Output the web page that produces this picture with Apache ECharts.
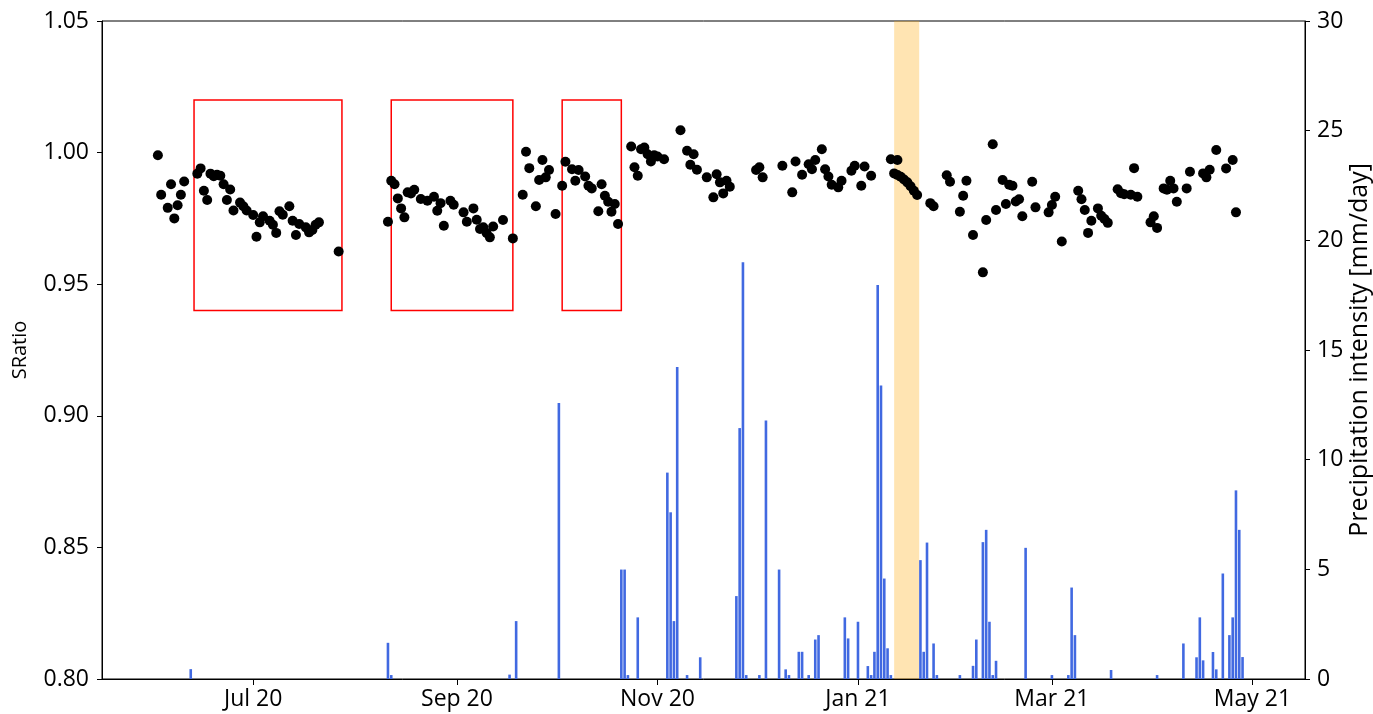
<!DOCTYPE html>
<html>
<head>
<meta charset="utf-8">
<script src="https://cdn.jsdelivr.net/npm/echarts@6/dist/echarts.min.js"></script>
<style>
  html, body { margin: 0; padding: 0; background: #fff; }
  #chart { width: 1373px; height: 714px; }
</style>
</head>
<body>
<div id="chart"></div>
<script>
// SRatio measurements (left axis)
const sratioDates = [
  '2020-06-02','2020-06-03','2020-06-05','2020-06-06','2020-06-07','2020-06-08','2020-06-09','2020-06-10',
  '2020-06-14','2020-06-15','2020-06-16','2020-06-17','2020-06-18','2020-06-19','2020-06-20','2020-06-21',
  '2020-06-22','2020-06-23','2020-06-24','2020-06-25','2020-06-27','2020-06-28','2020-06-29','2020-07-01',
  '2020-07-02','2020-07-03','2020-07-04','2020-07-06','2020-07-07','2020-07-08','2020-07-09','2020-07-10',
  '2020-07-12','2020-07-13','2020-07-14','2020-07-15','2020-07-17','2020-07-18','2020-07-19','2020-07-20',
  '2020-07-21','2020-07-27',
  '2020-08-11','2020-08-12','2020-08-13','2020-08-14','2020-08-15','2020-08-16','2020-08-17','2020-08-18',
  '2020-08-19','2020-08-21','2020-08-23','2020-08-25','2020-08-26','2020-08-27','2020-08-28','2020-08-30',
  '2020-08-31','2020-09-03','2020-09-04','2020-09-06','2020-09-07','2020-09-08','2020-09-09','2020-09-10',
  '2020-09-11','2020-09-12','2020-09-15','2020-09-18',
  '2020-09-21','2020-09-22','2020-09-23','2020-09-25','2020-09-26','2020-09-27','2020-09-28','2020-09-29',
  '2020-10-01','2020-10-03','2020-10-04','2020-10-06','2020-10-07','2020-10-08','2020-10-10','2020-10-11',
  '2020-10-12','2020-10-14','2020-10-15','2020-10-16','2020-10-17','2020-10-18','2020-10-19','2020-10-20',
  '2020-10-24','2020-10-25','2020-10-26','2020-10-27','2020-10-28','2020-10-29','2020-10-30','2020-10-31',
  '2020-11-01','2020-11-03','2020-11-08','2020-11-10','2020-11-11','2020-11-12','2020-11-13','2020-11-16',
  '2020-11-18','2020-11-19','2020-11-20','2020-11-21','2020-11-22','2020-11-23',
  '2020-12-01','2020-12-02','2020-12-03','2020-12-09','2020-12-12','2020-12-13','2020-12-15','2020-12-17',
  '2020-12-18','2020-12-19','2020-12-21','2020-12-22','2020-12-23','2020-12-24','2020-12-26','2020-12-27',
  '2020-12-30','2020-12-31',
  '2021-01-02','2021-01-03','2021-01-05','2021-01-11','2021-01-12','2021-01-13','2021-01-13','2021-01-14',
  '2021-01-15','2021-01-16','2021-01-17','2021-01-18','2021-01-19','2021-01-23','2021-01-24','2021-01-28',
  '2021-01-29','2021-02-01','2021-02-02','2021-02-03','2021-02-05','2021-02-08','2021-02-09','2021-02-11',
  '2021-02-12','2021-02-14','2021-02-15','2021-02-16','2021-02-17','2021-02-18','2021-02-19','2021-02-20',
  '2021-02-23','2021-02-24','2021-02-28','2021-03-01','2021-03-02','2021-03-04','2021-03-09','2021-03-10',
  '2021-03-11','2021-03-12','2021-03-13','2021-03-15','2021-03-16','2021-03-17','2021-03-18','2021-03-21',
  '2021-03-22','2021-03-23','2021-03-25','2021-03-26','2021-03-27','2021-03-31','2021-04-01','2021-04-02',
  '2021-04-04','2021-04-05','2021-04-06','2021-04-07','2021-04-08','2021-04-11','2021-04-12','2021-04-16',
  '2021-04-17','2021-04-18','2021-04-20','2021-04-23','2021-04-25','2021-04-26'
];
const sratioValues = [
  0.999,0.984,0.979,0.988,0.975,0.980,0.984,0.989,
  0.992,0.994,0.9855,0.982,0.992,0.991,0.9916,0.9912,
  0.988,0.982,0.986,0.978,0.981,0.9796,0.978,0.9763,
  0.968,0.9735,0.9758,0.9741,0.9726,0.9695,0.9777,0.9764,
  0.9796,0.9741,0.9687,0.9729,0.9716,0.9697,0.9706,0.9726,
  0.9735,0.9624,
  0.9737,0.9893,0.988,0.9826,0.9788,0.9754,0.9849,0.9845,
  0.9859,0.9824,0.9817,0.9832,0.9779,0.9808,0.9722,0.9817,
  0.9802,0.9773,0.9737,0.9788,0.9745,0.971,0.9716,0.9695,
  0.9678,0.9719,0.9744,0.9674,
  0.984,1.0003,0.9941,0.9796,0.9896,0.9972,0.9906,0.9934,
  0.9767,0.9874,0.9965,0.9937,0.9893,0.9934,0.9909,0.9874,
  0.9864,0.9777,0.988,0.9836,0.9813,0.9775,0.9805,0.9729,
  1.0023,0.9944,0.9912,1.0013,1.0019,0.9994,0.9966,0.999,
  0.9985,0.9975,1.0085,1.0007,0.9954,0.9994,0.9935,0.9906,
  0.983,0.9918,0.9887,0.9845,0.9893,0.987,
  0.9934,0.9944,0.9906,0.995,0.9849,0.9966,0.9916,0.9956,
  0.9937,0.9972,1.0013,0.9937,0.9909,0.9878,0.9868,0.9893,
  0.9931,0.995,
  0.9874,0.9947,0.9912,0.9975,0.9921,0.9972,0.9915,0.9908,
  0.9898,0.9887,0.9872,0.9855,0.9839,0.9808,0.9796,0.9914,
  0.9889,0.9775,0.9836,0.9893,0.9687,0.9545,0.9744,1.0032,
  0.9782,0.9896,0.9805,0.9878,0.9874,0.9814,0.9823,0.9758,
  0.9889,0.9792,0.9773,0.9801,0.9832,0.9662,0.9855,0.9823,
  0.9782,0.9695,0.9741,0.9788,0.976,0.9748,0.9733,0.9861,
  0.9846,0.9842,0.984,0.9941,0.9832,0.9735,0.9758,0.9714,
  0.9864,0.9859,0.9893,0.9864,0.9813,0.9864,0.9927,0.9921,
  0.9906,0.9935,1.001,0.994,0.9972,0.9773
];

// daily precipitation intensity [mm/day] (right axis)
const rainDates = [
  '2020-06-12','2020-08-11','2020-08-12','2020-09-17','2020-09-19','2020-10-02','2020-10-21','2020-10-22',
  '2020-10-23','2020-10-26','2020-11-04','2020-11-05','2020-11-06','2020-11-07','2020-11-10','2020-11-14',
  '2020-11-25','2020-11-26','2020-11-27','2020-11-28','2020-12-02','2020-12-04','2020-12-08','2020-12-10',
  '2020-12-11','2020-12-14','2020-12-15','2020-12-17','2020-12-19','2020-12-20','2020-12-28','2020-12-29',
  '2021-01-01','2021-01-04','2021-01-05','2021-01-06','2021-01-07','2021-01-08','2021-01-09','2021-01-10',
  '2021-01-11','2021-01-20','2021-01-21','2021-01-22','2021-01-24','2021-01-25','2021-02-01','2021-02-05',
  '2021-02-06','2021-02-08','2021-02-09','2021-02-10','2021-02-11','2021-02-12','2021-02-21','2021-03-01',
  '2021-03-06','2021-03-07','2021-03-08','2021-03-19','2021-04-02','2021-04-10','2021-04-14','2021-04-15',
  '2021-04-16','2021-04-19','2021-04-20','2021-04-22','2021-04-24','2021-04-25','2021-04-26','2021-04-27',
  '2021-04-28'
];
const rainValues = [
  0.45,1.65,0.18,0.2,2.64,12.58,4.99,4.99,
  0.18,2.81,9.41,7.6,2.64,14.22,0.18,0.99,
  3.78,11.44,19.0,0.18,0.18,11.79,4.99,0.44,
  0.18,1.24,1.24,0.18,1.8,2.0,2.81,1.85,
  2.61,0.59,0.18,1.24,17.96,13.38,4.58,1.4,
  0.18,5.42,1.24,6.22,1.62,0.18,0.18,0.6,
  1.8,6.24,6.8,2.61,0.18,0.83,5.98,0.18,
  0.18,4.17,2.0,0.41,0.18,1.62,0.99,2.81,
  0.85,1.23,0.44,4.81,2.0,2.81,8.6,6.8,
  1.0
];

// highlighted periods
const boxRanges = [
  ['2020-06-13', '2020-07-28'],
  ['2020-08-12', '2020-09-18'],
  ['2020-10-03', '2020-10-21']
];
const boxBottom = 0.94;
const boxTop = 1.02;
const bandRange = ['2021-01-12', '2021-01-19 15:00'];

const xTickDates = ['2020-07-01', '2020-09-01', '2020-11-01', '2021-01-01', '2021-03-01', '2021-05-01'];
const xTickLabels = ['Jul 20', 'Sep 20', 'Nov 20', 'Jan 21', 'Mar 21', 'May 21'];

function toTime(s) {
  const p = s.split(/[- :]/).map(Number);
  return new Date(p[0], p[1] - 1, p[2], p[3] || 0, p[4] || 0).getTime();
}
const tickTimes = xTickDates.map(toTime);

const font = 'Open Sans';
const chart = echarts.init(document.getElementById('chart'));

chart.setOption({
  animation: false,
  textStyle: { fontFamily: font },
  grid: {
    left: 102, right: 68, top: 21, bottom: 35,
    outerBoundsMode: 'none',
    show: true, borderColor: '#000', borderWidth: 1
  },
  xAxis: {
    type: 'value',
    min: toTime('2020-05-16'),
    max: toTime('2021-05-17'),
    splitLine: { show: false },
    axisLine: { show: true, lineStyle: { color: '#000' } },
    axisTick: { show: true, inside: false, length: 6, lineStyle: { color: '#000' }, customValues: tickTimes },
    axisLabel: {
      customValues: tickTimes,
      color: '#000', fontSize: 23, fontFamily: font, margin: 9,
      formatter: (v) => {
        const i = tickTimes.indexOf(+v);
        return i >= 0 ? xTickLabels[i] : '';
      }
    }
  },
  yAxis: [
    {
      type: 'value',
      position: 'left',
      min: 0.8, max: 1.05, interval: 0.05,
      name: 'SRatio',
      nameLocation: 'middle',
      nameGap: 72,
      nameRotate: 90,
      nameTextStyle: { color: '#000', fontSize: 20, fontFamily: font },
      splitLine: { show: false },
      axisLine: { show: true, lineStyle: { color: '#000' } },
      axisTick: { show: true, inside: false, length: 5, lineStyle: { color: '#000' } },
      axisLabel: { color: '#000', fontSize: 23, fontFamily: font, margin: 13, formatter: (v) => v.toFixed(2) }
    },
    {
      type: 'value',
      position: 'right',
      min: 0, max: 30, interval: 5,
      name: 'Precipitation intensity [mm/day]',
      nameLocation: 'middle',
      nameMoveOverlap: false,
      nameGap: 42,
      nameRotate: 90,
      nameTextStyle: { color: '#000', fontSize: 25, fontFamily: font },
      splitLine: { show: false },
      axisLine: { show: true, lineStyle: { color: '#000' } },
      axisTick: { show: true, inside: false, length: 5, lineStyle: { color: '#000' } },
      axisLabel: { color: '#000', fontSize: 23, fontFamily: font, margin: 12 }
    }
  ],
  series: [
    {
      type: 'bar',
      yAxisIndex: 1,
      barWidth: 2.6,
      itemStyle: { color: '#4169E1' },
      z: 2,
      data: rainDates.map((d, i) => [toTime(d), rainValues[i]])
    },
    {
      type: 'scatter',
      yAxisIndex: 0,
      data: [],
      z: 3,
      markArea: {
        silent: true,
        itemStyle: { color: 'rgba(0,0,0,0)', borderColor: '#ff0000', borderWidth: 1.5 },
        data: boxRanges.map(r => [
          { xAxis: toTime(r[0]), yAxis: boxBottom },
          { xAxis: toTime(r[1]), yAxis: boxTop }
        ])
      }
    },
    {
      type: 'scatter',
      yAxisIndex: 0,
      symbolSize: 10,
      itemStyle: { color: '#000', opacity: 1 },
      z: 4,
      data: sratioDates.map((d, i) => [toTime(d), sratioValues[i]])
    },
    {
      type: 'scatter',
      yAxisIndex: 0,
      data: [],
      z: 5,
      markArea: {
        silent: true,
        itemStyle: { color: 'rgba(255,165,0,0.3)' },
        data: [[{ xAxis: toTime(bandRange[0]) }, { xAxis: toTime(bandRange[1]) }]]
      }
    }
  ]
});
</script>
</body>
</html>
